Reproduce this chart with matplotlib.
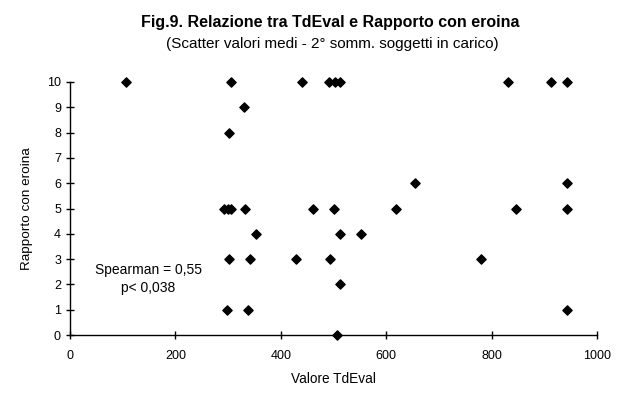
import numpy as np
import matplotlib.pyplot as plt
import matplotlib as mpl
mpl.rcParams["font.family"] = "Liberation Sans"

# valori
tdeval = [107, 305, 441, 491, 503, 512, 832, 913, 943,
          330,
          301,
          655, 943,
          292, 299, 306, 332, 462, 500, 618, 846, 943,
          353, 512, 552,
          301, 341, 428, 494, 780,
          512,
          298, 338, 943,
          506]
rapporto = [10, 10, 10, 10, 10, 10, 10, 10, 10,
            9,
            8,
            6, 6,
            5, 5, 5, 5, 5, 5, 5, 5, 5,
            4, 4, 4,
            3, 3, 3, 3, 3,
            2,
            1, 1, 1,
            0]
xticks = [0, 200, 400, 600, 800, 1000]
yticks = list(range(0, 11))

fig = plt.figure(figsize=(6.27, 3.98), dpi=100)
ax = fig.add_axes([70 / 627, 63 / 398, 527 / 627, 253 / 398])
ax.scatter(tdeval, rapporto, marker="D", s=22, color="black", clip_on=False, zorder=3)

ax.set_xlim(0, 1000)
ax.set_ylim(0, 10)
ax.set_xticks(xticks)
ax.set_yticks(yticks)
for s in ["top", "right"]:
    ax.spines[s].set_visible(False)
for s in ["left", "bottom"]:
    ax.spines[s].set_linewidth(1.0)
ax.tick_params(direction="inout", length=6, width=1.0, labelsize=9)
ax.tick_params(axis="x", pad=8)

ax.set_xlabel("Valore TdEval", fontsize=9.8, labelpad=7)
ax.set_ylabel("Rapporto con eroina", fontsize=9.7, labelpad=10)

fig.text(0.527, 1 - 23 / 398, "Fig.9. Relazione tra TdEval e Rapporto con eroina",
         ha="center", va="center", fontsize=11.5, fontweight="bold")
fig.text(0.53, 1 - 44 / 398, "(Scatter valori medi - 2° somm. soggetti in carico)",
         ha="center", va="center", fontsize=11)

ax.text(149, 2.58, "Spearman = 0,55", ha="center", va="center", fontsize=10)
ax.text(149, 1.85, "p< 0,038", ha="center", va="center", fontsize=10)

fig.savefig("out.png", dpi=100)
